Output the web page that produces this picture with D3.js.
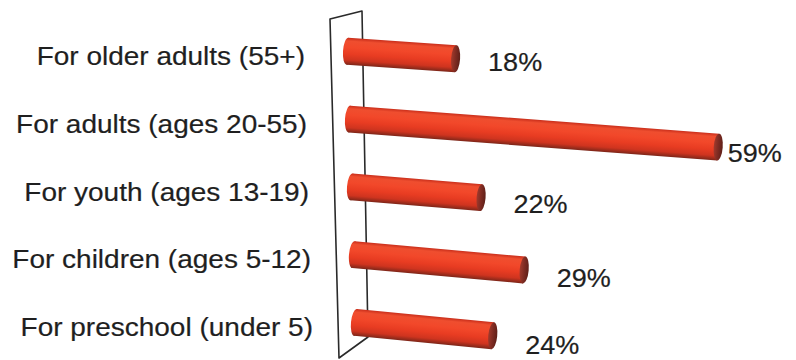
<!DOCTYPE html>
<html>
<head>
<meta charset="utf-8">
<script src="https://cdn.jsdelivr.net/npm/d3@7"></script>
<style>
  html, body { margin: 0; padding: 0; background: #ffffff; }
  svg { display: block; }
</style>
</head>
<body>
<svg id="chart" width="796" height="360"></svg>
<script>
const categories = [
  "For older adults (55+)",
  "For adults (ages 20-55)",
  "For youth (ages 13-19)",
  "For children (ages 5-12)",
  "For preschool (under 5)"
];
const values = [18, 59, 22, 29, 24];
const valueLabels = ["18%", "59%", "22%", "29%", "24%"];

const W = 796, H = 360;
const svg = d3.select("#chart");

// band-centre positions of the cylinders (left end)
const y = d3.scalePoint().domain(categories).range([51, 322]);
const n = categories.length;

// slanted back wall: left edge of the bars follows it
const leftX = yc => 343 + (yc - 51) * (8 / 271);
// perspective: lower rows slant slightly more and shrink slightly
const slope = i => 0.069 + (0.097 - 0.069) * i / (n - 1);
const xScale = i => d3.scaleLinear().domain([0, 100]).range([0, 652 - i * 10]);

const barH = 27;
const capRx = 4.5;

// gradient for cylinder body
const defs = svg.append("defs");
const grad = defs.append("linearGradient")
  .attr("id", "cyl").attr("x1", 0).attr("y1", 0).attr("x2", 0).attr("y2", 1);
[
  [0, "#c92e1b"], [0.12, "#ef4e2f"], [0.35, "#f2482a"], [0.6, "#e83c22"],
  [0.82, "#cf341f"], [1, "#7c2619"]
].forEach(([o, c]) => grad.append("stop").attr("offset", o).attr("stop-color", c));

const capGrad = defs.append("linearGradient")
  .attr("id", "cap").attr("x1", 0).attr("y1", 0).attr("x2", 1).attr("y2", 0);
[[0, "#a23a2c"], [0.5, "#7e2b22"], [1, "#5e1f18"]]
  .forEach(([o, c]) => capGrad.append("stop").attr("offset", o).attr("stop-color", c));

// back wall (parallelogram frame)
const wallTop = y.range()[0] - 32, wallBot = y.range()[1] + 36;
const wall = [
  [330, wallTop], [362, wallTop - 8],
  [368, wallBot - 21], [339, wallBot]
];
svg.append("path")
  .attr("d", d3.line()(wall) + "Z")
  .attr("fill", "none")
  .attr("stroke", "#2a2a2a")
  .attr("stroke-width", 1.6)
  .attr("stroke-linejoin", "round");

const textColor = "#1f1f1f";
const fontFamily = "'Liberation Sans', Arial, Helvetica, sans-serif";

categories.forEach((cat, i) => {
  const yc = y(cat);
  const x0 = leftX(yc);
  const L = xScale(i)(values[i]);
  const s = slope(i);
  const ang = Math.atan(s);
  const deg = ang * 180 / Math.PI;

  // category label
  svg.append("text")
    .attr("transform", `translate(${x0 - 38},${yc + 14}) scale(1.12,1)`)
    .attr("text-anchor", "end")
    .attr("font-family", fontFamily)
    .attr("font-size", 25)
    .attr("fill", textColor)
    .attr("stroke", textColor)
    .attr("stroke-width", 0.2)
    .text(cat);

  // cylinder
  const g = svg.append("g")
    .attr("transform", `translate(${x0},${yc}) rotate(${deg})`);
  g.append("ellipse")
    .attr("cx", capRx).attr("cy", 0)
    .attr("rx", capRx).attr("ry", barH / 2)
    .attr("fill", "url(#cyl)");
  g.append("rect")
    .attr("x", capRx).attr("y", -barH / 2)
    .attr("width", L - 2 * capRx).attr("height", barH)
    .attr("fill", "url(#cyl)");
  g.append("ellipse")
    .attr("cx", L - capRx).attr("cy", 0)
    .attr("rx", capRx).attr("ry", barH / 2)
    .attr("fill", "url(#cap)");

  // value label
  const rx = x0 + L * Math.cos(ang);
  const ry = yc + L * Math.sin(ang);
  const t = svg.append("text")
    .attr("font-family", fontFamily)
    .attr("font-size", 25.5)
    .attr("fill", textColor)
    .attr("stroke", textColor)
    .attr("stroke-width", 0.2)
    .text(valueLabels[i]);
  const tw = t.node().getComputedTextLength() * 1.06;
  let lx = rx + 28, ly = ry + 12 + i * 1.5;
  if (lx + tw > W - 8) { lx = rx + 5; ly = ry + 15; }
  t.attr("transform", `translate(${lx},${ly}) scale(1.06,1)`);
});
</script>
</body>
</html>
